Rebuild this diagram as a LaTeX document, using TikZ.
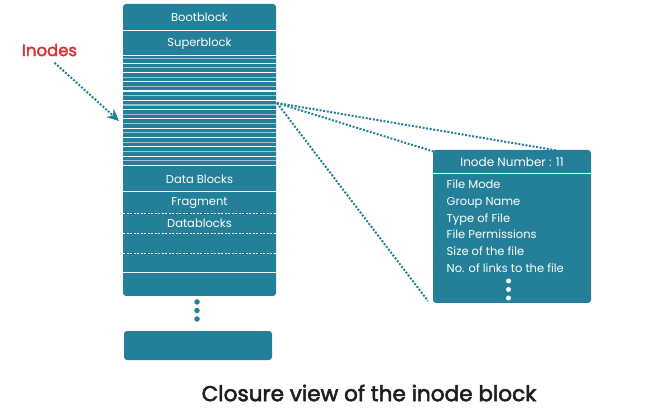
\documentclass[tikz,border=0pt]{standalone}
\usepackage{fontspec}
\setmainfont{Poppins}
\newfontfamily\medfont[FakeBold=2.5]{Poppins}
\usetikzlibrary{arrows.meta}
\definecolor{inodeteal}{RGB}{35,128,152}
\definecolor{inodered}{RGB}{216,52,56}
\definecolor{captiondark}{RGB}{28,30,34}

\tikzset{
  blockfill/.style={shape=rectangle,fill=inodeteal,rounded corners=3pt,inner sep=0pt},
  blocktext/.style={text=white,inner sep=0pt,font=\fontsize{11.5}{13}\selectfont},
  rowline/.style={white,line width=1pt},
  rowdash/.style={white,line width=0.8pt,dash pattern=on 2pt off 1.5pt},
  tealdot/.style={shape=circle,fill=inodeteal,inner sep=0pt,minimum size=5.5pt},
  whitedot/.style={shape=circle,fill=white,inner sep=0pt,minimum size=5pt},
  dotlink/.style={inodeteal,line width=2pt,dash pattern=on 2pt off 1.6pt},
}

\begin{document}
\begin{tikzpicture}[x=1pt,y=-1pt]
    \useasboundingbox (0,0) rectangle (650,411);
    % disk layout
    \node[blockfill,minimum width=153pt,minimum height=292pt](disk) at (199.5,150) {};
    \node[blocktext](boot) at (199.5,17) {Bootblock};
    \node[blocktext](super) at (199.5,44) {Superblock};
    \node[blocktext](data) at (199.5,179) {Data Blocks};
    \node[blocktext](frag) at (199.5,203) {Fragment};
    \node[blocktext](dblk) at (199.5,223) {Datablocks};
    \draw[rowline] (123,31) -- (276,31);
    \draw[rowline] (123,56) -- (276,56);
    \foreach \i in {0,...,23} {
        \pgfmathsetmacro{\op}{ifthenelse(mod(\i,2)==0,0.55,1)}
        \draw[white,line width=1.1pt,opacity=\op] (123,{58.5+\i*4.65}) -- (276,{58.5+\i*4.65});
    }
    \draw[rowline] (123,192) -- (276,192);
    \draw[rowdash] (123,213) -- (276,213);
    \draw[rowdash] (123,233) -- (276,233);
    \draw[rowdash] (123,253) -- (276,253);
    \draw[rowline] (123,273) -- (276,273);
    \node[tealdot](d1) at (197,302) {};
    \node[tealdot](d2) at (197,310.5) {};
    \node[tealdot](d3) at (197,319) {};
    \node[blockfill,minimum width=148pt,minimum height=29pt](last) at (198,345.5) {};

    % inode detail
    \node[blockfill,minimum width=158pt,minimum height=153pt](inode) at (512,226.5) {};
    \draw[rowline] (433,174) -- (591,174);
    \node[blocktext,font=\fontsize{12}{14}\selectfont](head) at (512,162.5) {Inode Number : 11};
    \foreach \t [count=\k] in {File Mode,Group Name,Type of File,File Permissions,Size of the file,No. of links to the file}
        \node[blocktext,anchor=base west](f\k) at (446.5,{172+\k*16.7}) {\t};
    \node[whitedot](e1) at (508.5,281) {};
    \node[whitedot](e2) at (508.5,289.5) {};
    \node[whitedot](e3) at (508.5,298) {};

    % links
    \coordinate (slot) at (277,103);
    \coordinate (far) at (557,150.5);
    \coordinate (near) at (435,152);
    \coordinate (low) at (428,301);
    \path[dotlink] (slot) edge (far);
    \path[dotlink] (slot) edge (near);
    \path[dotlink] (slot) edge (low);

    \node[text=inodered,font=\fontsize{16.5}{18}\medfont](lbl) at (49.5,50) {Inodes};
    \coordinate (stripin) at (119,121);
    \path[dotlink,-{Stealth[length=12pt,width=11pt]}] (lbl.south) ++(5,3) coordinate (lblfoot) (lblfoot) edge (stripin);

    \node[text=captiondark,font=\fontsize{21.6}{24}\medfont](cap) at (369,393) {Closure view of the inode block};
\end{tikzpicture}
\end{document}
